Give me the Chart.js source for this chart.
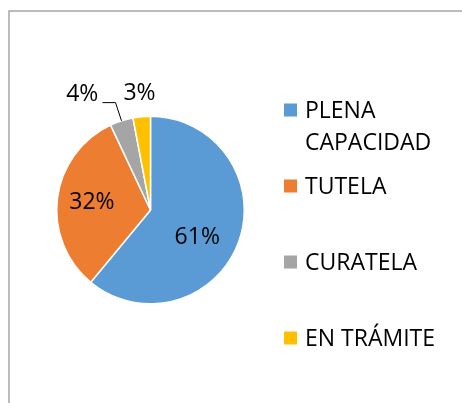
<!DOCTYPE html>
<html>
<head>
<meta charset="utf-8">
<script src="https://cdn.jsdelivr.net/npm/chart.js@4.4.1/dist/chart.umd.min.js"></script>
<style>
  html, body { margin: 0; padding: 0; background: #ffffff; }
  #wrap { position: absolute; left: 0; top: 0; width: 462px; height: 403px; }
</style>
</head>
<body>
<div id="wrap"><canvas id="c" width="462" height="403"></canvas></div>
<script>
const categories = ['PLENA CAPACIDAD', 'TUTELA', 'CURATELA', 'EN TRÁMITE'];
const legendLines = [['PLENA', 'CAPACIDAD'], ['TUTELA'], ['CURATELA'], ['EN TRÁMITE']];
const values = [61, 32, 4, 3];
const percentLabels = ['61%', '32%', '4%', '3%'];
const colors = ['#5B9BD5', '#ED7D31', '#A5A5A5', '#FFC000'];

const FONT = '23px "Open Sans", "Liberation Sans", sans-serif';

// label placement: radial factor (fraction of radius) and angular nudge (radians)
const labelPlacement = [
  { r: 0.58, da: 0.19 },
  { r: 0.63, da: 0.0 },
  { r: 1.43, da: -0.22, leader: true },
  { r: 1.25, da: 0.0 }
];

const framePlugin = {
  id: 'frame',
  beforeDraw(chart) {
    const ctx = chart.ctx;
    ctx.save();
    ctx.strokeStyle = '#a6a6a6';
    ctx.lineWidth = 1.5;
    ctx.beginPath();
    ctx.moveTo(9, 410);
    ctx.lineTo(9, 11);
    ctx.lineTo(470, 11);
    ctx.stroke();
    ctx.restore();
  }
};

const labelsPlugin = {
  id: 'pctLabels',
  afterDatasetsDraw(chart) {
    const ctx = chart.ctx;
    const meta = chart.getDatasetMeta(0);
    ctx.save();
    ctx.font = FONT;
    ctx.fillStyle = '#000000';
    ctx.textAlign = 'center';
    ctx.textBaseline = 'middle';
    meta.data.forEach((arc, i) => {
      const p = labelPlacement[i];
      const mid = (arc.startAngle + arc.endAngle) / 2;
      const a = mid + p.da;
      const R = arc.outerRadius;
      const x = arc.x + Math.cos(a) * R * p.r;
      const y = arc.y + Math.sin(a) * R * p.r;
      if (p.leader) {
        const sx = arc.x + Math.cos(mid) * R;
        const sy = arc.y + Math.sin(mid) * R;
        ctx.strokeStyle = '#000000';
        ctx.lineWidth = 1;
        ctx.beginPath();
        ctx.moveTo(sx, sy);
        ctx.lineTo(sx - 6, y + 8);
        ctx.lineTo(sx - 19, y + 8);
        ctx.stroke();
      }
      ctx.fillText(percentLabels[i], x, y);
    });
    ctx.restore();
  }
};

const legendPlugin = {
  id: 'customLegend',
  afterDraw(chart) {
    const ctx = chart.ctx;
    ctx.save();
    ctx.font = FONT;
    ctx.textBaseline = 'middle';
    ctx.textAlign = 'left';
    const rowY = [110, 186, 262, 338];
    const lineGap = 32;
    legendLines.forEach((lines, i) => {
      const y0 = rowY[i];
      ctx.fillStyle = colors[i];
      ctx.fillRect(284, y0 - 6.5, 13, 13);
      ctx.fillStyle = '#000000';
      lines.forEach((t, j) => ctx.fillText(t, 305, y0 + j * lineGap + 1));
    });
    ctx.restore();
  }
};

new Chart(document.getElementById('c'), {
  type: 'pie',
  data: {
    labels: categories,
    datasets: [{
      data: values,
      backgroundColor: colors,
      borderColor: '#ffffff',
      borderWidth: 1.5
    }]
  },
  options: {
    responsive: false,
    animation: false,
    layout: { padding: { left: 56, top: 115, right: 217, bottom: 98 } },
    plugins: {
      legend: { display: false },
      tooltip: { enabled: false }
    }
  },
  plugins: [framePlugin, labelsPlugin, legendPlugin]
});
</script>
</body>
</html>
